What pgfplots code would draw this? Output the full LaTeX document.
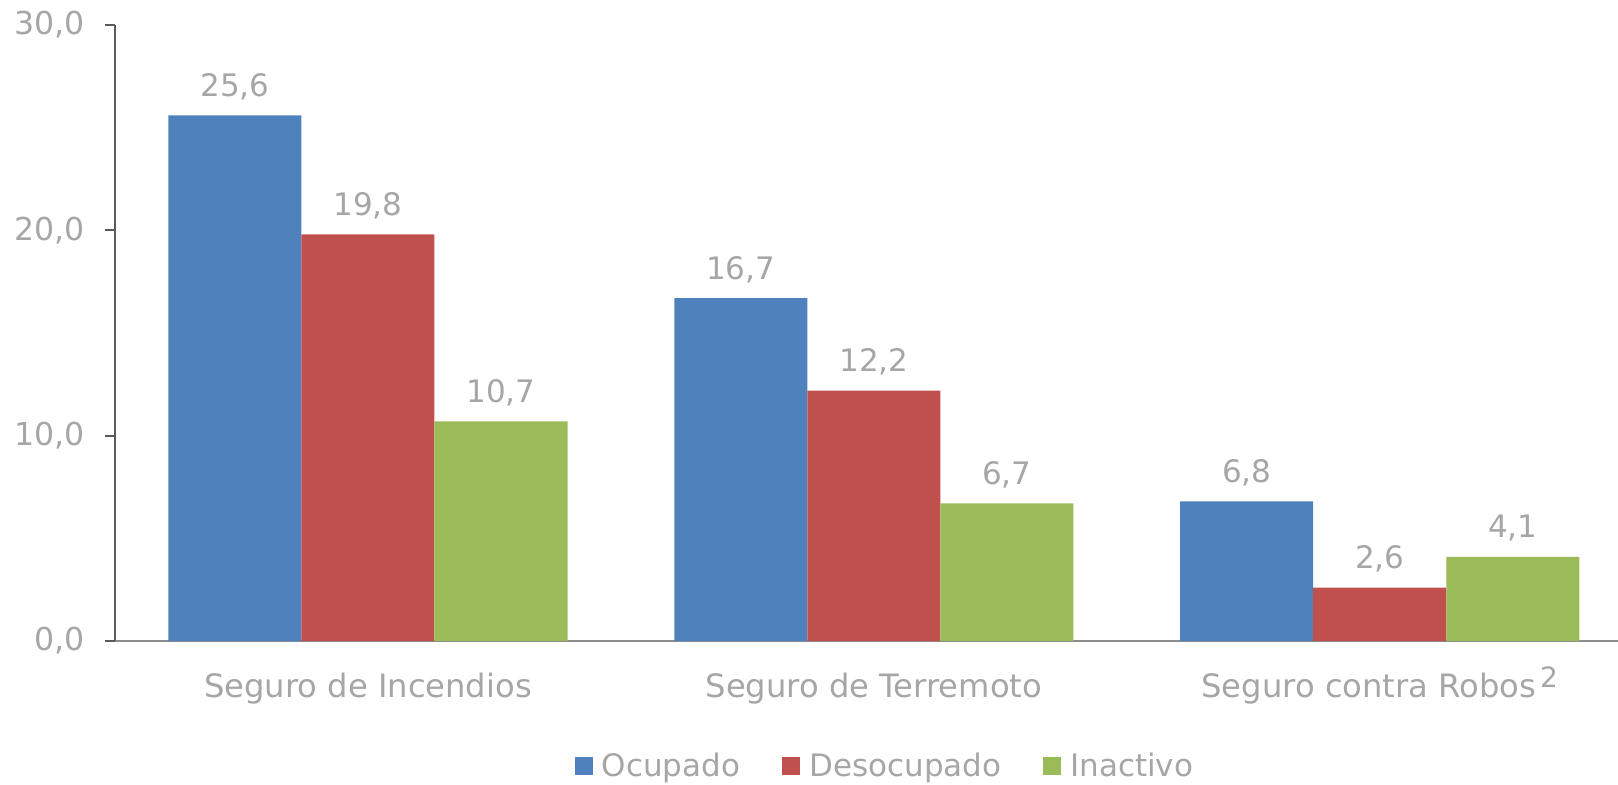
\documentclass[border=0pt]{standalone}
\usepackage{pgfplots}
\pgfplotsset{compat=1.18}
\usepackage{fontspec}
\setmainfont{DejaVu Sans}
\definecolor{cblue}{HTML}{4F81BD}
\definecolor{cred}{HTML}{C0504D}
\definecolor{cgreen}{HTML}{9BBB59}
\definecolor{txt}{HTML}{A6A6A6}
\definecolor{yax}{HTML}{595959}
\definecolor{xax}{HTML}{8C8C8C}
\begin{document}
\begin{tikzpicture}
\useasboundingbox (-57.5pt,-71.5pt) rectangle (751.5pt,320.5pt);
\begin{axis}[
  scale only axis, width=751.5pt, height=308pt,
  xmin=-0.5, xmax=2.471, ymin=0, ymax=30,
  ybar=0pt, bar width=0.263,
  axis x line*=bottom, axis y line*=left,
  x axis line style={xax, line width=0.9pt},
  y axis line style={yax, line width=0.9pt},
  xtick={0,1,2},
  xticklabels={Seguro de Incendios, Seguro de Terremoto, {Seguro contra Robos\hspace{2pt}\raisebox{5pt}{\fontsize{14}{14}\selectfont 2}}},
  xtick style={draw=none},
  ytick={0,10,20,30},
  tick align=outside, major tick length=5pt,
  ytick style={yax, line width=0.9pt},
  tick label style={font=\fontsize{15.8}{18}\selectfont, text=txt},
  xticklabel style={anchor=base, yshift=-23pt, font=\fontsize{16.1}{19}\selectfont},
  yticklabel style={anchor=east, xshift=-6.5pt},
  /pgf/number format/use comma,
  /pgf/number format/fixed,
  /pgf/number format/fixed zerofill,
  /pgf/number format/precision=1,
  /pgf/number format/assume math mode=true,
  nodes near coords,
  every node near coord/.append style={anchor=base, yshift=9.5pt, font=\fontsize{15.5}{18}\selectfont, text=txt},
  legend columns=3,
  legend style={at={(0.513,-0.203)}, anchor=center, draw=none, fill=none,
    font=\fontsize{15.5}{18}\selectfont, text=txt, inner sep=0pt,
    column sep=2.5pt,
    /tikz/every even column/.append style={column sep=19pt}},
  legend image code/.code={\fill[#1] (0pt,-4.5pt) rectangle (9pt,4.5pt);},
]
\addplot[fill=cblue, draw=none, bar shift=-0.263] coordinates {(0,25.6) (1,16.7) (2,6.8)};
\addplot[fill=cred, draw=none, bar shift=0] coordinates {(0,19.8) (1,12.2) (2,2.6)};
\addplot[fill=cgreen, draw=none, bar shift=0.263] coordinates {(0,10.7) (1,6.7) (2,4.1)};
\legend{Ocupado, Desocupado, Inactivo}
\end{axis}
\end{tikzpicture}
\end{document}
